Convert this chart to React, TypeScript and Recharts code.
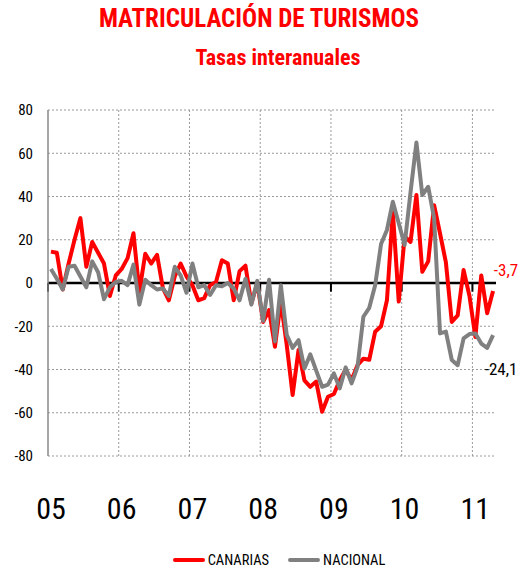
import React from "react";
import {
  LineChart,
  Line,
  XAxis,
  YAxis,
  CartesianGrid,
  ReferenceLine,
  Legend,
} from "recharts";

// tasas interanuales mensuales, ene-2005 .. abr-2011
const CANARIAS = [
  14.5, 14, -3, 9, 20, 30, 7.5, 19, 14, 9, -6, 3.5,
  6.5, 11.5, 23, -4, 13.5, 9, 13, -2.5, -8, 3, 9, 3,
  -1, -8, -7, -1, 0.5, 10.5, 9, -8, 5.5, 8, -9.5, 0,
  -18, -12.5, -29.5, -8.6, -28.7, -51.8, -31, -45, -48, -45.6, -59.5, -52.6,
  -51.3, -45, -40, -45, -38, -35, -35.5, -22.5, -20, -8, 33, -8.6,
  21.5, 19, 40.7, 5.2, 10, 36, 23, 9.5, -18, -15, 6, -6,
  -25, 3.5, -14, -3.7,
];

const NACIONAL = [
  6.5, 2, -3, 7.5, 8, 3, -2, 10, 5, -7.5, -2, 0.5,
  1, -1, 8.5, -10, 1.5, -1, -3, -2.5, -6, 7.5, 3.5, -4.5,
  9, -2, -1, -5.5, -1, -1.5, 0, -2.5, -8, 2, -10, 1,
  -17.5, 1.5, -27, -1, -24, -30, -26.4, -39.5, -33, -40.5, -48, -47,
  -41.8, -48.7, -39, -46.4, -39, -15.6, -11.5, -1, 18, 24.5, 37.6, 27.6,
  17.6, 42, 65, 40.7, 44.5, 30, -23.3, -22.5, -35.6, -38, -25.6, -23.6,
  -23.3, -28, -30, -24.1,
];

const YEAR_LABELS = ["05", "06", "07", "08", "09", "10", "11"];
const Y_TICKS = [-80, -60, -40, -20, 0, 20, 40, 60, 80];

const RED = "#FF0000";
const GREY = "#808080";
const FONT = "'Liberation Sans Narrow', 'Roboto Condensed', 'DejaVu Sans Condensed', sans-serif";

const data = CANARIAS.map((v, i) => ({ i, canarias: v, nacional: NACIONAL[i] }));
const last = data.length - 1;
const yearTicks = YEAR_LABELS.map((_, k) => k * 12);
const yearBounds = YEAR_LABELS.slice(1).map((_, k) => (k + 1) * 12 - 0.5);

function endLabel(color: string, dx: number, dy: number) {
  return (props: any) => {
    if (props.index !== last) return <g />;
    const v = Number(props.value).toFixed(1).replace(".", ",");
    return (
      <text
        x={props.x + dx}
        y={props.y + dy}
        fill={color}
        fontSize={17}
        fontFamily={FONT}
        textAnchor="middle"
        dominantBaseline="central"
      >
        {v}
      </text>
    );
  };
}

function LegendContent() {
  const items = [
    { name: "CANARIAS", color: RED },
    { name: "NACIONAL", color: GREY },
  ];
  return (
    <div
      style={{
        display: "flex",
        justifyContent: "center",
        gap: 19,
        height: 20,
        alignItems: "center",
        paddingLeft: 40,
      }}
    >
      {items.map((it) => (
        <div key={it.name} style={{ display: "flex", alignItems: "center", gap: 3 }}>
          <span style={{ width: 32, height: 4, background: it.color, borderRadius: 2 }} />
          <span style={{ fontFamily: FONT, fontSize: 14.5, color: "#000" }}>{it.name}</span>
        </div>
      ))}
    </div>
  );
}

export default function App() {
  return (
    <div style={{ position: "absolute", left: 0, top: 0, width: 518, height: 570, background: "#fff" }}>
      <div
        style={{
          position: "absolute",
          top: 4,
          width: 518,
          textAlign: "center",
          color: RED,
          fontFamily: FONT,
          fontWeight: "bold",
          fontSize: 25,
          lineHeight: "30px",
        }}
      >
        MATRICULACIÓN DE TURISMOS
      </div>
      <div
        style={{
          position: "absolute",
          top: 45,
          left: 19,
          width: 518,
          textAlign: "center",
          color: RED,
          fontFamily: FONT,
          fontWeight: "bold",
          fontSize: 22,
          lineHeight: "26px",
        }}
      >
        Tasas interanuales
      </div>
      <LineChart
        width={518}
        height={570}
        data={data}
        margin={{ top: 110, right: 22, bottom: 34, left: 0 }}
      >
        <CartesianGrid vertical={false} stroke="#9a9a9a" strokeDasharray="2 2" />
        {yearBounds.map((x) => (
          <ReferenceLine key={x} x={x} stroke="#9a9a9a" strokeDasharray="2 2" />
        ))}
        <XAxis
          type="number"
          dataKey="i"
          domain={[-0.5, last + 0.5]}
          ticks={yearTicks}
          tickFormatter={(v) => YEAR_LABELS[v / 12]}
          axisLine={false}
          tickLine={false}
          height={60}
          tickMargin={36}
          tick={{ fontSize: 30, fill: "#000", fontFamily: FONT }}
          interval={0}
        />
        <YAxis
          domain={[-80, 80]}
          ticks={Y_TICKS}
          width={48}
          axisLine={{ stroke: "#888", strokeWidth: 1.5 }}
          tickLine={false}
          tickMargin={9}
          tick={{ fontSize: 15, fill: "#000", fontFamily: FONT }}
          interval={0}
        />
        <ReferenceLine y={0} stroke="#000" strokeWidth={2.5} />
        {[-0.5, ...yearBounds].map((x) => (
          <ReferenceLine
            key={"t" + x}
            segment={[
              { x, y: 0 },
              { x, y: -4 },
            ]}
            stroke="#000"
            strokeWidth={2}
          />
        ))}
        <Line
          dataKey="canarias"
          name="CANARIAS"
          stroke={RED}
          strokeWidth={4}
          dot={false}
          strokeLinejoin="round"
          isAnimationActive={false}
          label={endLabel(RED, 13, -21)}
        />
        <Line
          dataKey="nacional"
          name="NACIONAL"
          stroke={GREY}
          strokeWidth={4}
          dot={false}
          strokeLinejoin="round"
          isAnimationActive={false}
          label={endLabel("#000", 8, 34)}
        />
        <Legend
          verticalAlign="bottom"
          content={<LegendContent />}
          wrapperStyle={{ top: 550, bottom: "auto", left: 0, width: 518 }}
        />
      </LineChart>
    </div>
  );
}
